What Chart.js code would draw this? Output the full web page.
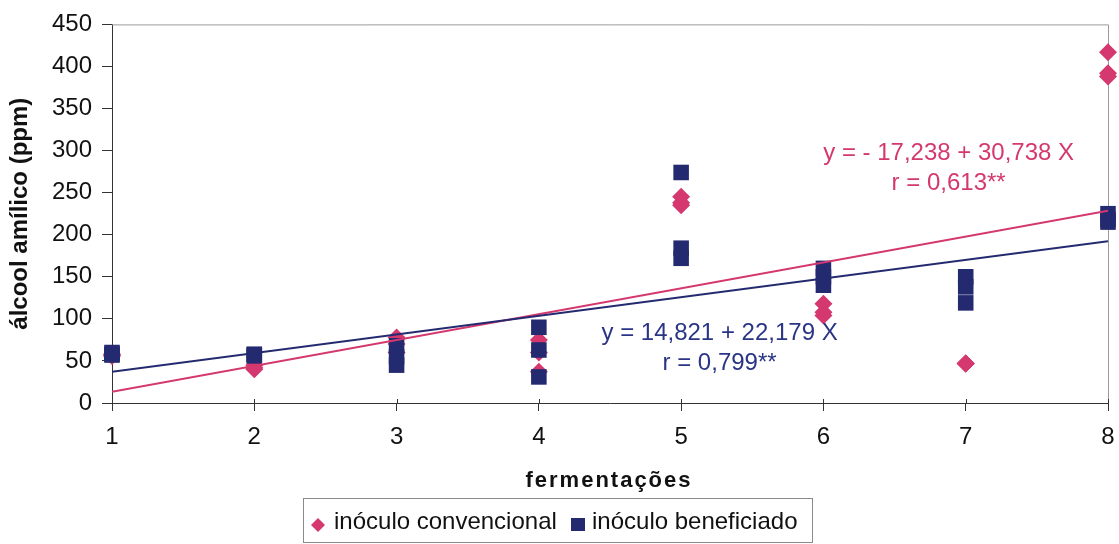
<!DOCTYPE html>
<html>
<head>
<meta charset="utf-8">
<script src="https://cdn.jsdelivr.net/npm/chart.js@4"></script>
<style>
  html, body { margin: 0; padding: 0; background: #fff; }
  #wrap { width: 1119px; height: 544px; }
</style>
</head>
<body>
<div id="wrap"><canvas id="grafico" width="1119" height="544"></canvas></div>
<script>
  // fermentações e valores (ppm)
  const fermConv = [1, 1, 1, 2, 2, 2, 3, 3, 3, 4, 4, 4, 5, 5, 5, 6, 6, 6, 7, 7, 7, 8, 8, 8];
  const convencional = [58, 57, 56, 40, 42, 45, 78, 70, 60, 75, 60, 37, 245, 235, 238, 118, 108, 104, 47, 47, 47, 417, 392, 388];
  const fermBenef = [1, 1, 1, 2, 2, 2, 3, 3, 3, 4, 4, 4, 5, 5, 5, 6, 6, 6, 7, 7, 7, 8, 8, 8];
  const beneficiado = [60, 58, 57, 58, 57, 56, 45, 55, 68, 90, 63, 31, 274, 184, 172, 160, 150, 140, 150, 138, 119, 225, 218, 215];
  const yTicks = [0, 50, 100, 150, 200, 250, 300, 350, 400, 450];

  // retas de regressão (coeficientes do próprio gráfico)
  const retaConv = { a: -17.238, b: 30.738, texto: ["y = - 17,238 + 30,738 X", "r = 0,613**"] };
  const retaBenef = { a: 14.821, b: 22.179, texto: ["y = 14,821 + 22,179 X", "r = 0,799**"] };

  const rosa = "#d4386f";
  const azul = "#242a70";
  const fonte = "'Liberation Sans', Arial, sans-serif";

  function pontos(xs, ys) {
    return xs.map((x, i) => ({ x: x, y: ys[i] }));
  }
  function reta(r) {
    return [{ x: 1, y: r.a + r.b * 1 }, { x: 8, y: r.a + r.b * 8 }];
  }

  const extras = {
    id: "extras",
    beforeDatasetsDraw(chart) {
      const c = chart.ctx, a = chart.chartArea;
      c.save();
      c.strokeStyle = "#9a9a9a";
      c.lineWidth = 1;
      c.beginPath();
      c.moveTo(a.left, a.top + 0.5);
      c.lineTo(a.right + 0.5, a.top + 0.5);
      c.lineTo(a.right + 0.5, a.bottom);
      c.stroke();
      // pequenos traços dos ticks do eixo x também para dentro
      c.strokeStyle = "#333";
      chart.scales.x.ticks.forEach(t => {
        const px = Math.round(chart.scales.x.getPixelForValue(t.value)) + 0.5;
        c.beginPath();
        c.moveTo(px, a.bottom - 4);
        c.lineTo(px, a.bottom);
        c.stroke();
      });
      c.restore();
    },
    afterDraw(chart) {
      const c = chart.ctx;
      const sx = chart.scales.x, sy = chart.scales.y;
      c.save();
      c.font = "24px " + fonte;
      c.textAlign = "center";
      c.textBaseline = "middle";
      // equações
      c.fillStyle = rosa;
      c.fillText(retaConv.texto[0], sx.getPixelForValue(6.88), sy.getPixelForValue(297));
      c.fillText(retaConv.texto[1], sx.getPixelForValue(6.88), sy.getPixelForValue(261));
      c.fillStyle = "#2a3585";
      c.fillText(retaBenef.texto[0], sx.getPixelForValue(5.27), sy.getPixelForValue(83));
      c.fillText(retaBenef.texto[1], sx.getPixelForValue(5.27), sy.getPixelForValue(47));

      // título do eixo x, espaçado
      c.fillStyle = "#111";
      c.font = "bold 22px " + fonte;
      c.letterSpacing = "2px";
      c.fillText("fermentações", 609, 481);
      c.letterSpacing = "0px";

      // legenda com moldura
      const lx = 303, ly = 498, lw = 509, lh = 44;
      c.strokeStyle = "#8a8a8a";
      c.lineWidth = 1;
      c.strokeRect(lx + 0.5, ly + 0.5, lw, lh);
      const cy = 522;
      c.fillStyle = rosa;
      c.beginPath();
      c.moveTo(318, cy - 4); c.lineTo(325, cy + 3); c.lineTo(318, cy + 10); c.lineTo(311, cy + 3);
      c.closePath(); c.fill();
      c.fillStyle = azul;
      c.fillRect(571, cy - 4, 14, 13);
      c.fillStyle = "#111";
      c.textAlign = "left";
      c.font = "24px " + fonte;
      c.fillText("inóculo convencional", 334, cy);
      c.fillText("inóculo beneficiado", 592, cy);
      c.restore();
    }
  };

  new Chart(document.getElementById("grafico"), {
    type: "scatter",
    data: {
      datasets: [
        {
          label: "inóculo convencional",
          data: pontos(fermConv, convencional),
          pointStyle: "rectRot",
          pointRadius: 9,
          backgroundColor: rosa,
          borderColor: rosa,
          borderWidth: 0,
          clip: false,
          order: 3
        },
        {
          label: "inóculo beneficiado",
          data: pontos(fermBenef, beneficiado),
          pointStyle: "rect",
          pointRadius: 11,
          backgroundColor: azul,
          borderColor: azul,
          borderWidth: 0,
          clip: false,
          order: 2
        },
        {
          type: "line",
          label: "reta convencional",
          data: reta(retaConv),
          borderColor: rosa,
          borderWidth: 2,
          pointRadius: 0,
          order: 1
        },
        {
          type: "line",
          label: "reta beneficiado",
          data: reta(retaBenef),
          borderColor: azul,
          borderWidth: 2,
          pointRadius: 0,
          order: 0
        }
      ]
    },
    options: {
      responsive: false,
      animation: false,
      layout: { padding: { top: 24, right: 11, left: 0, bottom: 0 } },
      plugins: {
        legend: { display: false },
        tooltip: { enabled: false }
      },
      scales: {
        x: {
          type: "linear",
          min: 1,
          max: 8,
          afterFit(s) { s.height = 141; s.paddingRight = 0; s.paddingLeft = 0; },
          ticks: {
            stepSize: 1,
            color: "#111",
            padding: 12,
            font: { family: fonte, size: 24 }
          },
          grid: { drawOnChartArea: false, tickLength: 8, color: "#333" },
          border: { color: "#333", width: 1 },
          title: { display: false }
        },
        y: {
          min: 0,
          max: 450,
          afterFit(s) { s.width = 112; },
          afterBuildTicks(s) { s.ticks = yTicks.map(v => ({ value: v })); },
          ticks: {
            color: "#111",
            padding: 10,
            font: { family: fonte, size: 24 }
          },
          grid: { drawOnChartArea: false, tickLength: 10, color: "#333" },
          border: { color: "#333", width: 1 },
          title: {
            display: true,
            text: "álcool amílico (ppm)",
            color: "#111",
            font: { family: fonte, size: 24, weight: "bold" },
            padding: { top: 6 }
          }
        }
      }
    },
    plugins: [extras]
  });
</script>
</body>
</html>
